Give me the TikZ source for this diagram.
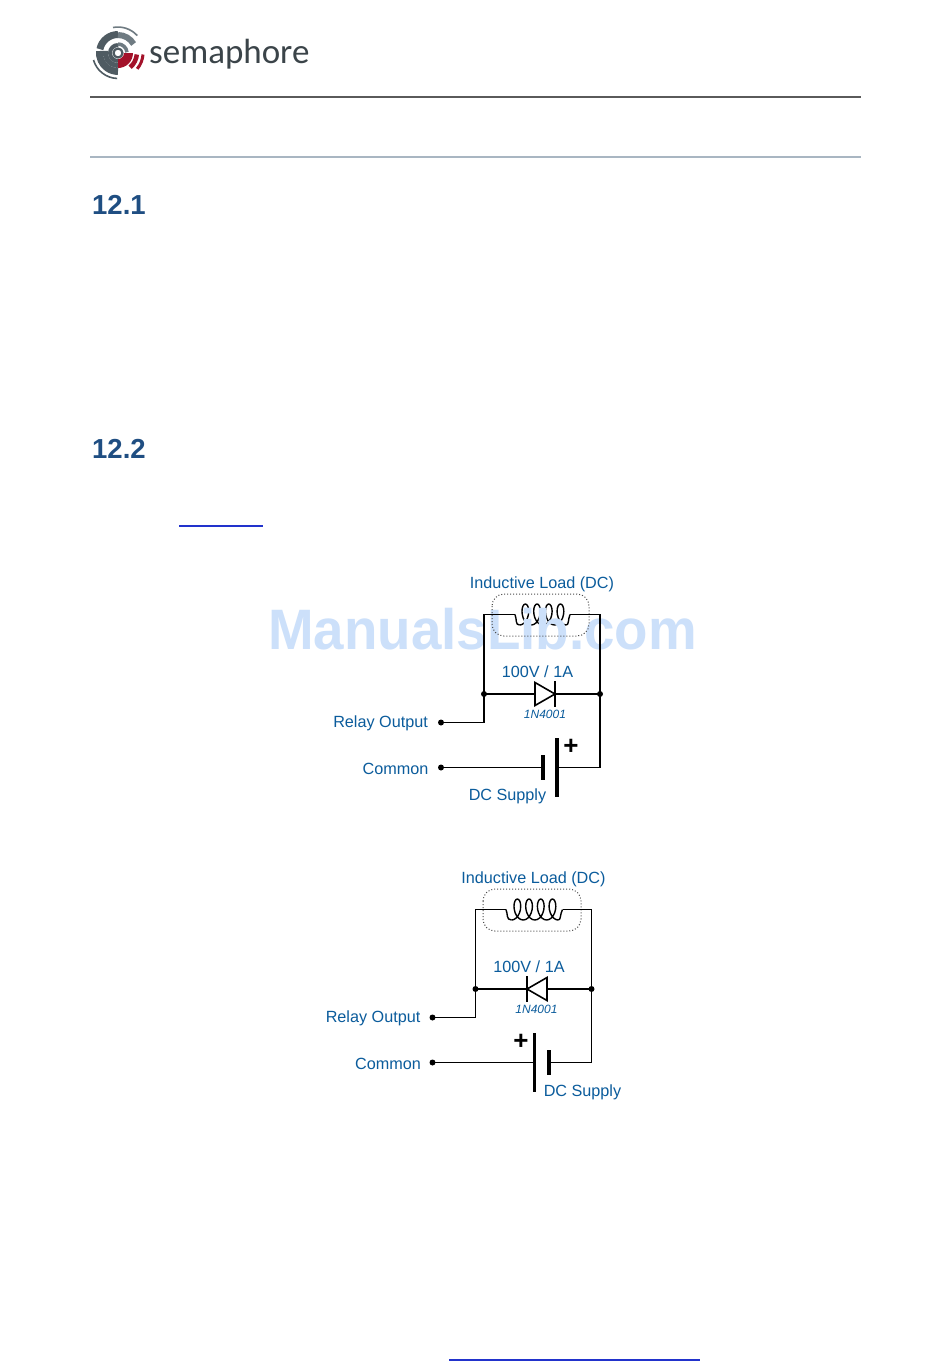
\documentclass[tikz,border=0pt]{standalone}
\usepackage{fontspec}
\setmainfont{Liberation Sans}
\newfontfamily\logofont{Carlito}
\usetikzlibrary{calc}
\definecolor{lbl}{HTML}{0B5C9C}
\definecolor{head}{HTML}{1F4E82}
\definecolor{wmark}{HTML}{CCE0FA}
\definecolor{lgray}{HTML}{4F5B62}
\definecolor{lgrayb}{HTML}{6F7B82}
\definecolor{lred}{HTML}{A3122A}
\definecolor{rule1}{HTML}{5A5A5A}
\definecolor{rule2}{HTML}{A9B6C2}
\definecolor{linkc}{HTML}{2233CC}
\tikzset{
  wire/.style={black,line width=1.4pt,line join=miter},
  plate/.style={black,line width=3.4pt},
  bar/.style={black,line width=1.8pt},
  dioded/.style={black,line width=1.6pt,line join=miter},
  dotn/.style={circle,fill=black,inner sep=0pt,minimum size=6pt},
  lab/.style={inner sep=0pt,text=lbl,font=\fontsize{16.2}{18}\selectfont,anchor=base},
  labr/.style={lab,anchor=base east},
  part/.style={lab,font=\fontsize{12}{14}\selectfont\itshape},
  plusn/.style={inner sep=0pt,text=black,font=\fontsize{26}{26}\selectfont\bfseries},
  loadbox/.style={black!70,line width=1pt,dotted,rounded corners=12pt},
  headn/.style={inner sep=0pt,anchor=base west,text=head,font=\fontsize{27.5}{30}\selectfont\bfseries},
  logoarc/.style={line cap=butt}
}
\newcommand{\coilpath}[3]{% xs, pitch, yc
  plot[smooth,samples=81,domain=0:25.1327,variable=\t]
   ({#1+#2*\t/6.28318+6*sin(\t r)},{#3+10.5*cos(\t r)})}
\begin{document}
\begin{tikzpicture}[x=1pt,y=-1pt]
\useasboundingbox (0,0) rectangle (950,1369);
\fill[white] (0,0) rectangle (950,1369);

% logo
\begin{scope}[shift={(118,53)},y=1pt,logoarc]
 \draw[lgray,line width=7pt] (0,18.5) arc (90:168:18.5);
 \draw[lgray,line width=7pt] (-18.4,2) arc (174:270:18.5);
 \draw[lgray,line width=1.6pt] (-24.5,-7) arc (196:268:25.5);
 \draw[lgrayb,line width=1.6pt] (-5,25.5) arc (101:42:26);
 \draw[lgray,line width=5pt] (0,-12.5) arc (270:170:12.5);
 \draw[lgray,line width=4pt] (0,8) arc (90:270:8);
 \draw[lgrayb,line width=6pt] (0,18) arc (90:30:18);
 \draw[lgrayb,line width=3.5pt] (0,9) arc (90:5:9);
 \fill[lred] (0,-6) arc (-90:0:6) -- (15,0) arc (0:-90:15) -- cycle;
 \draw[lgray,line width=2.2pt] (0,0) circle (4.5);
 \draw[lred,line width=4.5pt] (18.8,-1.5) arc (-5:-50:18.8);
 \draw[lred,line width=3pt] (25,-1.5) arc (-4:-40:25);
\end{scope}
\node[inner sep=0pt,anchor=base west,text=lgray!75!black,font=\logofont\fontsize{35}{38}\selectfont] (logotext) at (149,63) {semaphore};

% rules
\coordinate (r1a) at (90,97); \coordinate (r1b) at (861,97);
\coordinate (r2a) at (90,157); \coordinate (r2b) at (861,157);
\draw[rule1,line width=2pt] (r1a) -- (r1b);
\draw[rule2,line width=1.1pt] (r2a) -- (r2b);

\node[headn] (h1) at (92,214) {12.1};
\node[headn] (h2) at (92,458) {12.2};

% links
\coordinate (l1a) at (179,526); \coordinate (l1b) at (263,526);
\coordinate (l2a) at (449,1360); \coordinate (l2b) at (700,1360);
\draw[linkc,line width=1.2pt] (l1a) -- (l1b);
\draw[linkc,line width=1.2pt] (l2a) -- (l2b);

% first coil, under the watermark
\coordinate (ca) at (515,614.5); \coordinate (cb) at (570,614.5);
\draw[wire] (ca) .. controls (517,619) and (515,625) .. (519.5,625);
\draw[wire] \coilpath{519.5}{11.7}{614.5};
\draw[wire] (566.3,625) .. controls (569,625) and (568,619) .. (cb);

% watermark
\node[inner sep=0pt,anchor=base west,text=wmark,xscale=0.96,font=\fontsize{57}{60}\selectfont\bfseries] (wm) at (268,649.5) {ManualsLib.com};

% circuit 1
\node[lab] (t1) at (542,588) {Inductive Load (DC)};
\draw[loadbox] (492,594) rectangle (589,636);
\coordinate (a1) at (484,614.5); \coordinate (a2) at (600,614.5);
\node[dotn] (j1) at (484,694) {}; \node[dotn] (j2) at (600,694) {};
\node[dotn] (ro1) at (441,722.5) {}; \node[dotn] (co1) at (441,767.5) {};
\coordinate (d1l) at (535,694); \coordinate (d1r) at (555,694);
\coordinate (b1a) at (543,767.5); \coordinate (b1b) at (557,767.5);
\coordinate (cr1) at (484,722.5); \coordinate (cr2) at (600,767.5);
\draw[wire] (ca) -- (a1) -- (j1.center) -- (cr1) -- (ro1.center);
\draw[wire] (cb) -- (a2) -- (j2.center) -- (cr2) -- (b1b);
\draw[wire] (j1.center) -- (d1l); \draw[wire] (d1r) -- (j2.center);
\draw[wire] (co1.center) -- (b1a);
\draw[dioded] (d1l) ++(0,-11.5) -- ++(20,11.5) -- ++(-20,11.5) -- cycle;
\draw[bar] (555,681) -- (555,707);
\draw[plate] (543,755) -- (543,780);
\draw[plate] (557,738) -- (557,797);
\node[plusn] (p1) at (571,747) {+};
\node[lab] (v1) at (537.5,677) {100V / 1A};
\node[part] (n1) at (545,718) {1N4001};
\node[labr] (r1) at (428,727.5) {Relay Output};
\node[labr] (c1) at (428.5,774) {Common};
\node[lab] (s1) at (507.5,800.5) {DC Supply};

% circuit 2
\node[lab] (t2) at (533.5,883) {Inductive Load (DC)};
\draw[loadbox] (483,889) rectangle (581,931);
\coordinate (a3) at (475.5,909.5); \coordinate (a4) at (591.5,909.5);
\coordinate (cc) at (506,909.5); \coordinate (cd) at (562.5,909.5);
\draw[wire] (cc) .. controls (508,914) and (506,920) .. (511.5,920);
\draw[wire] \coilpath{511.5}{11.7}{909.5};
\draw[wire] (558.3,920) .. controls (561,920) and (560,914) .. (cd);
\node[dotn] (j3) at (475.5,989) {}; \node[dotn] (j4) at (591.5,989) {};
\node[dotn] (ro2) at (432.5,1017.5) {}; \node[dotn] (co2) at (432.5,1062.5) {};
\coordinate (d2l) at (527,989); \coordinate (d2r) at (547,989);
\coordinate (b2a) at (534.5,1062.5); \coordinate (b2b) at (549,1062.5);
\coordinate (cr3) at (475.5,1017.5); \coordinate (cr4) at (591.5,1062.5);
\draw[wire] (cc) -- (a3) -- (j3.center) -- (cr3) -- (ro2.center);
\draw[wire] (cd) -- (a4) -- (j4.center) -- (cr4) -- (b2b);
\draw[wire] (j3.center) -- (d2l); \draw[wire] (d2r) -- (j4.center);
\draw[wire] (co2.center) -- (b2a);
\draw[dioded] (d2r) ++(0,-11.5) -- ++(-20,11.5) -- ++(20,11.5) -- cycle;
\draw[bar] (527,976) -- (527,1002);
\draw[plate] (534.5,1033) -- (534.5,1092);
\draw[plate] (549,1050) -- (549,1075);
\node[plusn] (p2) at (521,1042) {+};
\node[lab] (v2) at (529,972) {100V / 1A};
\node[part] (n2) at (536.5,1013) {1N4001};
\node[labr] (r2) at (420.5,1022.5) {Relay Output};
\node[labr] (c2) at (421,1069) {Common};
\node[lab] (s2) at (582.5,1096) {DC Supply};
\end{tikzpicture}
\end{document}
